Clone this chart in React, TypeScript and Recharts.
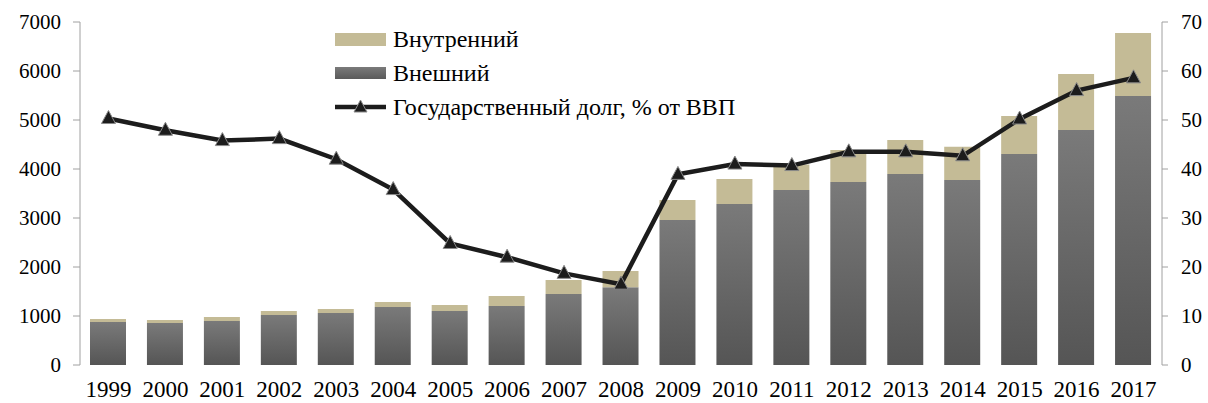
import { ComposedChart, Bar, Line, XAxis, YAxis, Legend } from "recharts";

const years = ["1999", "2000", "2001", "2002", "2003", "2004", "2005", "2006", "2007", "2008", "2009", "2010", "2011", "2012", "2013", "2014", "2015", "2016", "2017"];
const external = [878, 857, 898, 1020, 1061, 1184, 1102, 1204, 1449, 1585, 2959, 3286, 3571, 3735, 3898, 3776, 4306, 4796, 5490];
const domestic = [61, 61, 82, 82, 82, 102, 122, 204, 286, 333, 408, 510, 523, 653, 694, 680, 776, 1143, 1286];
const debtToGdp = [50.3, 47.9, 45.8, 46.2, 42.0, 35.8, 24.8, 22.0, 18.7, 16.5, 38.9, 41.0, 40.7, 43.5, 43.5, 42.7, 50.2, 56.0, 58.6];
const leftTicks = [0, 1000, 2000, 3000, 4000, 5000, 6000, 7000];
const rightTicks = [0, 10, 20, 30, 40, 50, 60, 70];
const boundaryTicks = years.map((_, i) => i).concat([years.length]);

const data = years.map((y, i) => ({
  year: y,
  ext: external[i],
  dom: domestic[i],
  pct: debtToGdp[i],
}));

const font = "'Liberation Serif', 'Times New Roman', serif";
const axisGrey = "#a0a0a0";
const tan = "#c4bb96";
const lineColor = "#1c1c1c";
const yTickStyle = { fontSize: 21, fill: "#000", fontFamily: font };
const xTickStyle = { fontSize: 23, fill: "#000", fontFamily: font };

function Triangle(props: any) {
  const { cx, cy } = props;
  if (cx == null || cy == null) return null;
  return (
    <path
      d={`M${cx},${cy - 8} L${cx + 7},${cy + 5} L${cx - 7},${cy + 5} Z`}
      fill={lineColor} stroke="#8a8a8a" strokeWidth={1}
    />
  );
}

function LegendBox() {
  const row = { display: "flex", alignItems: "center", height: 34 } as const;
  const label = { fontFamily: font, fontSize: 24, color: "#000", marginLeft: 7, whiteSpace: "nowrap" } as const;
  return (
    <div>
      <div style={row}>
        <div style={{ width: 51, height: 13, background: tan }} />
        <span style={label}>Внутренний</span>
      </div>
      <div style={row}>
        <div style={{ width: 51, height: 12, background: "linear-gradient(#7a7a7a, #5a5a5a)" }} />
        <span style={label}>Внешний</span>
      </div>
      <div style={row}>
        <svg width={51} height={16}>
          <line x1={0} y1={8} x2={51} y2={8} stroke={lineColor} strokeWidth={4.5} />
          <path d="M25.5,1 L32,13 L19,13 Z" fill={lineColor} stroke="#8a8a8a" strokeWidth={1} />
        </svg>
        <span style={label}>Государственный долг, % от ВВП</span>
      </div>
    </div>
  );
}

export default function App() {
  return (
    <div style={{ position: "absolute", left: 0, top: 0, width: 1208, height: 403, background: "#fff", fontFamily: font }}>
      <ComposedChart
        width={1208} height={403} data={data} margin={{ top: 22, right: 0, left: 0, bottom: 0 }}
        style={{ fontFamily: font }}
      >
        <defs>
          <linearGradient id="extFill" x1="0" y1="0" x2="0" y2="1">
            <stop offset="0%" stopColor="#7a7a7a" />
            <stop offset="100%" stopColor="#555555" />
          </linearGradient>
        </defs>
        <XAxis
          xAxisId="grid" type="number" domain={[0, years.length]} ticks={boundaryTicks}
          height={0} tick={false} tickSize={7} stroke={axisGrey} allowDataOverflow
        />
        <XAxis
          dataKey="year" height={38} axisLine={false} tickLine={false} tickMargin={10}
          interval={0} tick={xTickStyle}
        />
        <YAxis
          yAxisId="left" width={80} domain={[0, 7000]} ticks={leftTicks} tickSize={7}
          tickMargin={12} stroke={axisGrey} tick={yTickStyle} interval={0}
        />
        <YAxis
          yAxisId="right" orientation="right" width={46} domain={[0, 70]} ticks={rightTicks}
          tickSize={6} tickMargin={13} stroke={axisGrey} tick={yTickStyle} interval={0}
        />
        <Legend
          layout="vertical" verticalAlign="middle" align="center" content={() => <LegendBox />}
          wrapperStyle={{ left: 335, top: 22, width: 460 }}
        />
        <Bar yAxisId="left" dataKey="ext" stackId="a" fill="url(#extFill)" barSize={36} isAnimationActive={false} />
        <Bar yAxisId="left" dataKey="dom" stackId="a" fill={tan} barSize={36} isAnimationActive={false} />
        <Line
          yAxisId="right" dataKey="pct" stroke={lineColor} strokeWidth={4.5} type="linear"
          dot={<Triangle />} activeDot={false} isAnimationActive={false}
        />
      </ComposedChart>
    </div>
  );
}
